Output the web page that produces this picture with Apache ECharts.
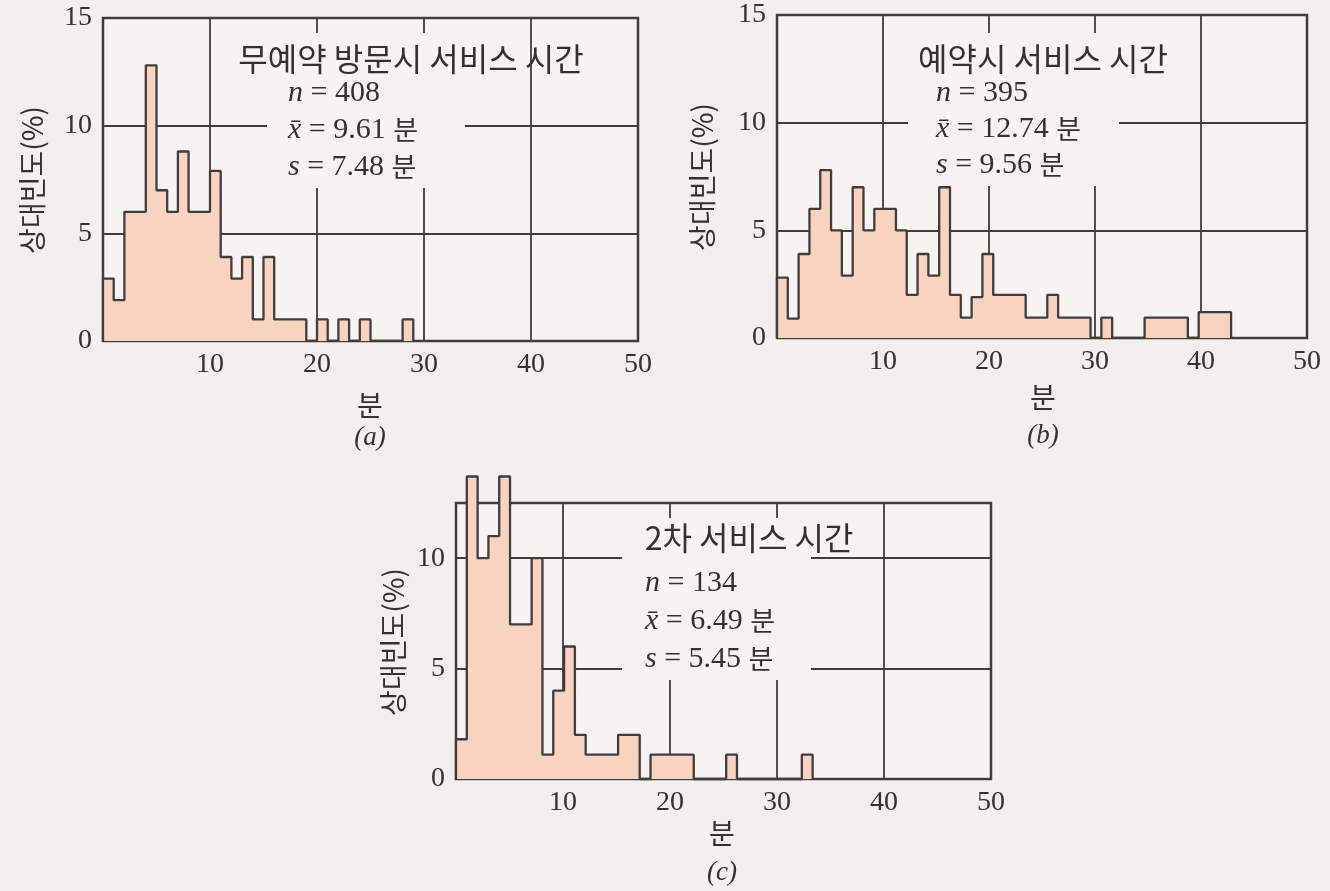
<!DOCTYPE html>
<html><head><meta charset="utf-8">
<script src="https://cdn.jsdelivr.net/npm/echarts@6/dist/echarts.min.js"></script>
<style>html,body{margin:0;padding:0;background:#f2f0ef;}#c{width:1330px;height:891px;}</style>
</head><body><div id="c"></div>
<script>
// ---------- data ----------
const xTicks = [0, 10, 20, 30, 40, 50];
const yTicksAB = [0, 5, 10, 15];
const yTicksC = [0, 5, 10];
const yMaxC = 12.5;

const titleA = '무예약 방문시 서비스 시간';
const titleB = '예약시 서비스 시간';
const titleC = '2차 서비스 시간';
const statsA = ['408', '9.61', '7.48'];
const statsB = ['395', '12.74', '9.56'];
const statsC = ['134', '6.49', '5.45'];
const captions = ['(a)', '(b)', '(c)'];
const yName = '상대빈도(%)';
const xName = '분';

// relative frequency (%) per 1-minute bin, starting at 0 minutes
const binWidthA = 1.0;
const valuesA = [2.9, 1.9, 6, 6, 12.8, 7, 6, 8.8, 6, 6, 7.9, 3.9, 2.9, 3.9, 1, 3.9, 1, 1, 1, 0, 1, 0, 1, 0, 1, 0, 0, 0, 1];
const binWidthB = 1.02;
const valuesB = [2.8, 0.9, 3.9, 6, 7.8, 5, 2.9, 7, 5, 6, 6, 5, 2, 3.9, 2.9, 7, 2, 0.95, 1.9, 3.9, 2, 2, 2, 0.95, 0.95, 2, 0.95, 0.95, 0.95, 0, 0.95, 0, 0, 0, 0.95, 0.95, 0.95, 0.95, 0, 1.2, 1.2, 1.2];
const binWidthC = 1.01;
const valuesC = [1.8, 13.7, 10, 11, 13.7, 7, 7, 10, 1.1, 4, 6, 2, 1.1, 1.1, 1.1, 2, 2, 0, 1.1, 1.1, 1.1, 1.1, 0, 0, 0, 1.1, 0, 0, 0, 0, 0, 0, 1.1];

// ---------- style ----------
const INK = '#363030';
const LINE = '#433c3c';
const FILL = '#f8d3c0';
const PLOTBG = '#f6f4f3';
const SERIF = '"Liberation Serif", "DejaVu Serif", serif';
const KR = '"Noto Sans CJK KR", "Noto Sans", sans-serif';

function stepData(values, w) {
  const pts = [[0, 0]];
  values.forEach((v, i) => pts.push([i * w, v]));
  pts.push([values.length * w, 0]);
  return pts;
}

const grids = [
  { left: 103, top: 18, width: 535, height: 323 },
  { left: 777, top: 15, width: 530, height: 323 },
  { left: 456, top: 503, width: 535, height: 276 }
];

function mkGrid(g) {
  return Object.assign({ show: true, borderColor: LINE, borderWidth: 2.5, backgroundColor: PLOTBG, containLabel: false }, g);
}
function mkX(i) {
  return {
    gridIndex: i, type: 'value', min: xTicks[0], max: xTicks[xTicks.length - 1], interval: xTicks[1] - xTicks[0],
    axisLine: { show: false }, axisTick: { show: false },
    splitLine: { show: true, lineStyle: { color: LINE, width: 1.8 } },
    axisLabel: { margin: 10, fontFamily: SERIF, fontSize: 28, color: INK, formatter: v => (v === 0 ? '' : String(v)) }
  };
}
function mkY(i, ticks, max) {
  return {
    gridIndex: i, type: 'value', min: ticks[0], max: max, interval: ticks[1] - ticks[0],
    axisLine: { show: false }, axisTick: { show: false },
    splitLine: { show: true, lineStyle: { color: LINE, width: 1.8 } },
    axisLabel: { margin: 11, fontFamily: SERIF, fontSize: 28, color: INK, showMaxLabel: max === ticks[ticks.length - 1] }
  };
}
function mkSeries(i, values, w, clip) {
  return {
    type: 'line', xAxisIndex: i, yAxisIndex: i, step: 'end', data: stepData(values, w),
    showSymbol: false, clip: clip, z: 3,
    lineStyle: { color: LINE, width: 2.3 },
    areaStyle: { color: FILL, opacity: 1, origin: 'start' }
  };
}

function statText(x, y, stats, lineGap) {
  const rich = {
    it: { fontFamily: SERIF, fontStyle: 'italic', fontSize: 30, fill: INK },
    rm: { fontFamily: SERIF, fontSize: 30, fill: INK },
    kr: { fontFamily: KR, fontSize: 27, fill: INK }
  };
  const lines = [
    '{it|n}{rm| = ' + stats[0] + '}',
    '{it|x\u0304}{rm| = ' + stats[1] + ' }{kr|' + xName + '}',
    '{it|s}{rm| = ' + stats[2] + ' }{kr|' + xName + '}'
  ];
  return lines.map((t, k) => ({
    type: 'text', x: x, y: y + k * lineGap, z: 100,
    style: { text: t, rich: rich, textAlign: 'left', textVerticalAlign: 'middle', fill: INK }
  }));
}
function txt(x, y, s, font, size, extra) {
  return Object.assign({
    type: 'text', x: x, y: y, z: 100,
    style: { text: s, fontFamily: font, fontSize: size, fill: INK, textAlign: 'center', textVerticalAlign: 'middle' }
  }, extra || {});
}
function cap(x, y, s) {
  return {
    type: 'text', x: x, y: y, z: 100,
    style: { text: s, fontFamily: SERIF, fontStyle: 'italic', fontSize: 27, fill: INK, textAlign: 'center', textVerticalAlign: 'middle' }
  };
}
function box(x, y, w, h) {
  return { type: 'rect', z: 1, shape: { x: x, y: y, width: w, height: h }, style: { fill: PLOTBG } };
}

const graphics = [
  box(267, 33, 198, 155), box(908, 33, 211, 153), box(622, 518, 189, 162),
  txt(411, 59, titleA, KR, 32), txt(1043, 59, titleB, KR, 32), txt(749, 538, titleC, KR, 32),
  ...statText(288, 93, statsA, 37), ...statText(936, 93, statsB, 36), ...statText(645, 583, statsC, 38),
  txt(32, 180, yName, KR, 28, { rotation: Math.PI / 2 }),
  txt(702, 177, yName, KR, 28, { rotation: Math.PI / 2 }),
  txt(393, 642, yName, KR, 28, { rotation: Math.PI / 2 }),
  txt(370, 405, xName, KR, 28), txt(1043, 397, xName, KR, 28), txt(722, 833, xName, KR, 28),
  cap(370, 438, captions[0]), cap(1043, 436, captions[1]), cap(722, 873, captions[2])
];

const chart = echarts.init(document.getElementById('c'), null, { renderer: 'canvas' });
chart.setOption({
  backgroundColor: '#f2f0ef',
  animation: false,
  grid: grids.map(mkGrid),
  xAxis: [mkX(0), mkX(1), mkX(2)],
  yAxis: [mkY(0, yTicksAB, 15), mkY(1, yTicksAB, 15), mkY(2, yTicksC, yMaxC)],
  series: [mkSeries(0, valuesA, binWidthA, true), mkSeries(1, valuesB, binWidthB, true), mkSeries(2, valuesC, binWidthC, false)],
  graphic: { elements: graphics }
});
</script></body></html>
